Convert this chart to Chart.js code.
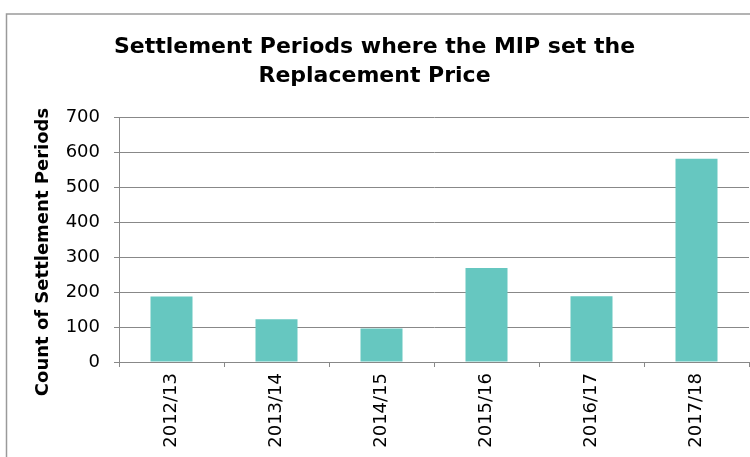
<!DOCTYPE html>
<html>
<head>
<meta charset="utf-8">
<script src="https://cdn.jsdelivr.net/npm/chart.js@4"></script>
<style>
  html, body { margin: 0; padding: 0; background: #fff; }
  #wrap { width: 750px; height: 457px; }
</style>
</head>
<body>
<div id="wrap"><canvas id="mipChart" width="750" height="457"></canvas></div>
<script>
const years = ['2012/13', '2013/14', '2014/15', '2015/16', '2016/17', '2017/18'];
const periodCounts = [187, 122, 96, 269, 188, 581];
const yTicks = [0, 100, 200, 300, 400, 500, 600, 700];

const lineGrey = '#888888';

// outer chart frame + rotated y title
const framePlugin = {
  id: 'frame',
  beforeDraw(chart) {
    const ctx = chart.ctx;
    ctx.save();
    ctx.strokeStyle = '#9a9a9a';
    ctx.lineWidth = 1.5;
    ctx.beginPath();
    ctx.moveTo(6.5, 470);
    ctx.lineTo(6.5, 14);
    ctx.lineTo(760, 14);
    ctx.stroke();
    ctx.restore();
  },
  afterDraw(chart) {
    const ctx = chart.ctx;
    ctx.save();
    ctx.translate(43, 252);
    ctx.rotate(-Math.PI / 2);
    ctx.font = 'bold 18px "DejaVu Sans"';
    ctx.fillStyle = '#000';
    ctx.textAlign = 'center';
    ctx.textBaseline = 'middle';
    ctx.fillText('Count of Settlement Periods', 0, 0);
    ctx.restore();
  }
};

const ctx = document.getElementById('mipChart').getContext('2d');
const mipChart = new Chart(ctx, {
  type: 'bar',
  data: {
    labels: years,
    datasets: [{
      label: 'Settlement Periods',
      data: periodCounts,
      backgroundColor: '#66c7c0',
      borderWidth: 0,
      barPercentage: 0.4,
      categoryPercentage: 1.0
    }]
  },
  options: {
    responsive: false, // fixed canvas size
    animation: false,
    layout: { padding: { left: 0, right: 1, top: 0, bottom: 0 } },
    plugins: {
      legend: { display: false },
      tooltip: { enabled: false },
      title: {
        display: true,
        text: ['Settlement Periods where the MIP set the', 'Replacement Price'],
        color: '#000',
        font: { family: '"DejaVu Sans"', size: 22, weight: 'bold', lineHeight: 1.32 },
        padding: { top: 33, bottom: 26 }
      }
    },
    scales: {
      x: {
        grid: {
          offset: true,
          drawOnChartArea: false,
          color: lineGrey,
          tickLength: 5
        },
        border: { color: lineGrey, width: 1 },
        ticks: {
          color: '#000',
          font: { family: '"DejaVu Sans"', size: 18 },
          minRotation: 90,
          maxRotation: 90,
          padding: 6
        },
        afterFit(scale) { scale.height = 95; }
      },
      y: {
        min: 0,
        max: 700,
        afterBuildTicks(scale) { scale.ticks = yTicks.map(v => ({ value: v })); },
        grid: { color: lineGrey, tickLength: 5, lineWidth: 1 },
        border: { color: lineGrey, width: 1 },
        ticks: {
          color: '#000',
          font: { family: '"DejaVu Sans"', size: 18 },
          padding: 14
        },
        afterFit(scale) { scale.width = 119; }
      }
    }
  },
  plugins: [framePlugin]
});
</script>
</body>
</html>
